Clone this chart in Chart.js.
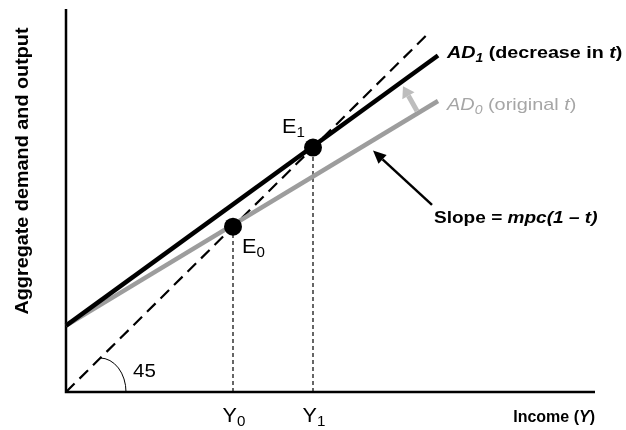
<!DOCTYPE html>
<html lang="en">
<head>
  <meta charset="UTF-8">
  <title>Aggregate demand - change in tax rate</title>
  <script src="https://cdn.jsdelivr.net/npm/chart.js"></script>
  <style>
    html, body { margin: 0; padding: 0; background: #fff; }
    .wrap { width: 626px; height: 430px; position: relative; }
  </style>
</head>
<body>
  <div class="wrap"><canvas id="mychart"></canvas></div>
  <script>
    // values (1 unit ~ 1 px of the original)
    const axisMax = { x: 529, y: 387 };
    const line45X = [0, 360];
    const line45Y = [0, 360];
    const adX = [0, 372];
    const ad0 = [67, 294];     // original t
    const ad1 = [67, 340];     // decrease in t
    const eqIncome = [167, 247];   // Y0, Y1 (= E0, E1 on the 45 line)
    const eqNames = ['0', '1'];

    const F = '"Liberation Sans", Arial, sans-serif';
    const pts = (xs, ys) => xs.map((x, i) => ({ x: x, y: ys[i] }));

    function drawRuns(ctx, x, y, parts, sx, align) {
      ctx.save();
      ctx.translate(x, y);
      ctx.scale(sx, 1);
      let w = 0;
      parts.forEach(p => { ctx.font = p.f; w += ctx.measureText(p.t).width; });
      let cx = align === 'right' ? -w : align === 'center' ? -w / 2 : 0;
      ctx.textAlign = 'left';
      ctx.textBaseline = 'alphabetic';
      parts.forEach(p => {
        ctx.font = p.f;
        ctx.fillStyle = p.c || '#000';
        ctx.fillText(p.t, cx, p.dy || 0);
        cx += ctx.measureText(p.t).width;
      });
      ctx.restore();
    }

    function arrow(ctx, x1, y1, x2, y2, width, color, headLen, headHalf) {
      const a = Math.atan2(y2 - y1, x2 - x1);
      const bx = x2 - headLen * Math.cos(a), by = y2 - headLen * Math.sin(a);
      ctx.save();
      ctx.strokeStyle = color;
      ctx.fillStyle = color;
      ctx.lineWidth = width;
      ctx.beginPath();
      ctx.moveTo(x1, y1);
      ctx.lineTo(bx, by);
      ctx.stroke();
      ctx.beginPath();
      ctx.moveTo(x2, y2);
      ctx.lineTo(bx + headHalf * Math.sin(a), by - headHalf * Math.cos(a));
      ctx.lineTo(bx - headHalf * Math.sin(a), by + headHalf * Math.cos(a));
      ctx.closePath();
      ctx.fill();
      ctx.restore();
    }

    const labels = {
      id: 'labels',
      afterDatasetsDraw(chart) {
        const ctx = chart.ctx;
        const xs = chart.scales.x, ys = chart.scales.y;
        const px = v => xs.getPixelForValue(v);
        const py = v => ys.getPixelForValue(v);

        // 45 degree angle mark
        ctx.save();
        ctx.strokeStyle = '#000';
        ctx.lineWidth = 1;
        ctx.beginPath();
        ctx.ellipse(px(34), py(0), 26, 34, 0, -Math.PI / 2, 0);
        ctx.stroke();
        ctx.restore();
        drawRuns(ctx, px(67), py(15), [{ t: '45', f: '19px ' + F }], 1.08, 'left');

        // arrows
        arrow(ctx, px(351), py(284), px(337), py(309), 5, '#bdbdbd', 11, 7);
        arrow(ctx, px(366), py(189), px(307), py(244), 2.5, '#000', 13, 6);

        // curve labels
        drawRuns(ctx, 447, 58, [
          { t: 'AD', f: 'italic bold 17px ' + F },
          { t: '1', f: 'italic bold 12px ' + F, dy: 4 },
          { t: ' (decrease in ', f: 'bold 17px ' + F },
          { t: 't', f: 'italic bold 17px ' + F },
          { t: ')', f: 'bold 17px ' + F }
        ], 1.16, 'left');
        const g = '#a6a6a6';
        drawRuns(ctx, 447, 110, [
          { t: 'AD', f: 'italic 17px ' + F, c: g },
          { t: '0', f: 'italic 12px ' + F, dy: 4, c: g },
          { t: ' (original ', f: '17px ' + F, c: g },
          { t: 't', f: 'italic 17px ' + F, c: g },
          { t: ')', f: '17px ' + F, c: g }
        ], 1.17, 'left');
        drawRuns(ctx, 434, 223, [
          { t: 'Slope = ', f: 'bold 17px ' + F },
          { t: 'mpc(1 \u2013 t)', f: 'italic bold 17px ' + F }
        ], 1.12, 'left');

        // equilibrium labels
        drawRuns(ctx, px(eqIncome[1]) - 31, py(eqIncome[1]) - 15, [
          { t: 'E', f: '20px ' + F }, { t: eqNames[1], f: '14px ' + F, dy: 4 }
        ], 1.08, 'left');
        drawRuns(ctx, px(eqIncome[0]) + 9, py(eqIncome[0]) + 26, [
          { t: 'E', f: '20px ' + F }, { t: eqNames[0], f: '14px ' + F, dy: 4 }
        ], 1.08, 'left');
        eqIncome.forEach((v, i) => {
          drawRuns(ctx, px(v) + 1, 422, [
            { t: 'Y', f: '20px ' + F }, { t: eqNames[i], f: '14px ' + F, dy: 4 }
          ], 1.08, 'center');
        });

        // axis titles
        drawRuns(ctx, px(axisMax.x), 422, [
          { t: 'Income (', f: 'bold 16px ' + F },
          { t: 'Y', f: 'italic bold 16px ' + F },
          { t: ')', f: 'bold 16px ' + F }
        ], 1, 'right');
        ctx.save();
        ctx.translate(28, 171);
        ctx.rotate(-Math.PI / 2);
        drawRuns(ctx, 0, 0, [{ t: 'Aggregate demand and output', f: 'bold 18px ' + F }], 1.1, 'center');
        ctx.restore();
      }
    };

    const line = (data, color, width, dash, order) => ({
      data: data, showLine: true, borderColor: color, borderWidth: width,
      borderDash: dash || [], pointRadius: 0, tension: 0, clip: false, order: order
    });

    new Chart(document.getElementById('mychart'), {
      type: 'scatter',
      data: {
        datasets: [
          line(pts([0, 0, axisMax.x], [axisMax.y, 0, 0]), '#000', 2.5, null, 10),
          line(pts([eqIncome[0], eqIncome[0]], [0, eqIncome[0]]), '#000', 1.2, [4, 3], 9),
          line(pts([eqIncome[1], eqIncome[1]], [0, eqIncome[1]]), '#000', 1.2, [4, 3], 9),
          line(pts(line45X, line45Y), '#000', 2.2, [12, 7], 8),
          line(pts(adX, ad0), '#9d9d9d', 4.5, null, 7),
          line(pts(adX, ad1), '#000', 4.5, null, 6),
          {
            data: pts(eqIncome, eqIncome), pointRadius: 9, backgroundColor: '#000',
            borderColor: '#000', borderWidth: 0, clip: false, order: 1
          }
        ]
      },
      options: {
        responsive: true,
        maintainAspectRatio: false,
        animation: false,
        events: [],
        layout: { padding: { left: 66, top: 5, right: 31, bottom: 38 } },
        scales: {
          x: { type: 'linear', display: false, min: 0, max: axisMax.x },
          y: { type: 'linear', display: false, min: 0, max: axisMax.y }
        },
        plugins: { legend: { display: false }, tooltip: { enabled: false } }
      },
      plugins: [labels]
    });
  </script>
</body>
</html>
